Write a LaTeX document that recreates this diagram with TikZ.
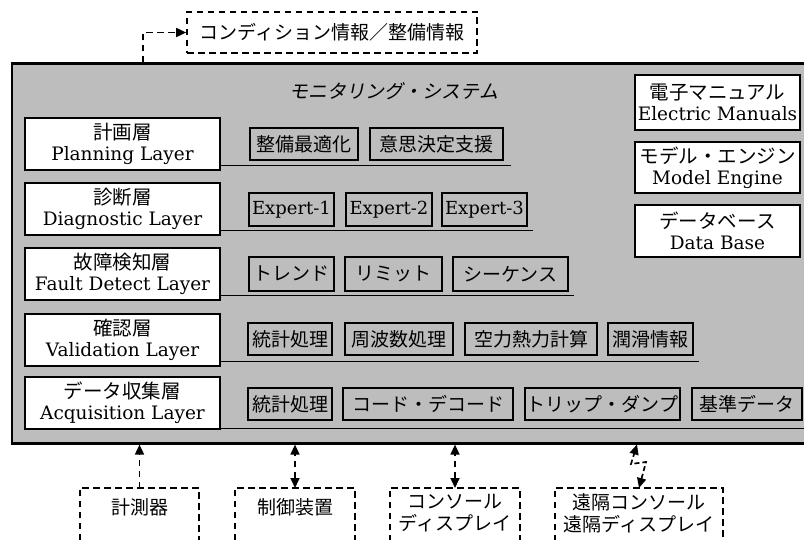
\documentclass[tikz,border=0pt]{standalone}
\usepackage{fontspec}
\newfontfamily\jp{Noto Sans CJK JP}
\newfontfamily\jpsl{Noto Sans CJK JP}[FakeSlant=0.2]
\newfontfamily\en{DejaVu Serif}
\usetikzlibrary{arrows.meta}
\newcommand\jtext[1]{{\jp\fontsize{19.5}{22}\selectfont #1}}
\newcommand\etext[1]{{\en\fontsize{18.5}{21}\selectfont #1}}
\tikzset{
  sysbox/.style={draw, line width=2.2pt, fill=black!26, minimum width=800pt, minimum height=380pt, inner sep=0pt},
  layer/.style={draw, line width=2.2pt, fill=white, minimum width=195pt, minimum height=52pt, inner sep=0pt, align=center, font=\fontsize{18.5}{21}\selectfont},
  side/.style={layer, minimum width=165pt},
  item/.style={draw, line width=1.4pt, minimum height=32pt, inner sep=0pt, font=\jp\fontsize{19}{22}\selectfont},
  expert/.style={item, font=\en\fontsize{18}{20}\selectfont},
  rowline/.style={line width=1pt},
  dline/.style={line width=1.7pt, dash pattern=on 6.5pt off 4.5pt},
  obox/.style={draw=none, anchor=north, inner sep=0pt, align=center, font=\jp\fontsize{19}{21.5}\selectfont},
  tip/.style={-{Triangle[length=10pt,width=9pt]}},
  dtip/.style={{Triangle[length=10pt,width=9pt]}-{Triangle[length=10pt,width=9pt]}},
}
\begin{document}
\begin{tikzpicture}[x=1pt,y=-1pt]
\useasboundingbox (0,0) rectangle (804,540);
\clip (0,0) rectangle (804,540);
\fill[white] (0,0) rectangle (804,540);
\node[sysbox] (sys) at (412,253.5) {};
% top info box
\node[draw, dline, minimum width=290pt, minimum height=41pt, inner sep=0pt, font=\jp\fontsize{19}{21}\selectfont] (cond) at (332,32.5) {コンディション情報／整備情報};
\coordinate (tl) at (143,33);
\draw[dline, tip] (sys.north -| tl) |- (cond.west);
\node[font=\jpsl\fontsize{19}{21}\selectfont] (title) at (394,91) {モニタリング・システム};
% layers
\node[layer] (L1) at (122.5,144) {\jtext{計画層}\\\etext{Planning Layer}};
\node[layer] (L2) at (122.5,209) {\jtext{診断層}\\\etext{Diagnostic Layer}};
\node[layer] (L3) at (122.5,274) {\jtext{故障検知層}\\\etext{Fault Detect Layer}};
\node[layer] (L4) at (122.5,340) {\jtext{確認層}\\\etext{Validation Layer}};
\node[layer] (L5) at (122.5,403) {\jtext{データ収集層}\\\etext{Acquisition Layer}};
% side boxes
\node[side, minimum height=55pt] (R1) at (717.5,102.5) {\jtext{電子マニュアル}\\\etext{Electric Manuals}};
\node[side, minimum height=51pt] (R2) at (717.5,167.5) {\jtext{モデル・エンジン}\\\etext{Model Engine}};
\node[side, minimum height=52pt] (R3) at (717.5,231) {\jtext{データベース}\\\etext{Data Base}};
% row items
\node[item, minimum width=108pt] (I11) at (304,144) {整備最適化};
\node[item, minimum width=133pt] (I12) at (436.5,144) {意思決定支援};
\node[expert, minimum width=85pt, minimum height=33pt] (I21) at (291.5,209.5) {Expert-1};
\node[expert, minimum width=86pt, minimum height=33pt] (I22) at (389,209.5) {Expert-2};
\node[expert, minimum width=85pt, minimum height=33pt] (I23) at (484.5,209.5) {Expert-3};
\node[item, minimum width=85pt, minimum height=34pt] (I31) at (291.5,274) {トレンド};
\node[item, minimum width=97pt, minimum height=34pt] (I32) at (393.5,274) {リミット};
\node[item, minimum width=115pt, minimum height=34pt] (I33) at (510.5,274) {シーケンス};
\node[item, minimum width=84pt] (I41) at (290,339) {統計処理};
\node[item, minimum width=108pt] (I42) at (399,339) {周波数処理};
\node[item, minimum width=132pt] (I43) at (531,339) {空力熱力計算};
\node[item, minimum width=85pt] (I44) at (650.5,339) {潤滑情報};
\node[item, minimum width=84pt] (I51) at (290,404) {統計処理};
\node[item, minimum width=170pt] (I52) at (428,404) {コード・デコード};
\node[item, minimum width=155pt] (I53) at (602.5,404) {トリップ・ダンプ};
\node[item, minimum width=110pt] (I54) at (747,404) {基準データ};
% row lines
\coordinate (r1) at ([yshift=6pt]L1.south east);
\coordinate (r2) at ([yshift=6pt]L2.south east);
\coordinate (r3) at ([yshift=6pt]L3.south east);
\coordinate (r4) at ([yshift=6pt]L4.south east);
\coordinate (r5) at ([yshift=2pt]L5.south east);
\draw[rowline] (r1) -- (r1 -| I12.east) -- ++(7,0);
\draw[rowline] (r2) -- (r2 -| I23.east) -- ++(5,0);
\draw[rowline] (r3) -- (r3 -| I33.east) -- ++(5,0);
\draw[rowline] (r4) -- (r4 -| I44.east) -- ++(5,0);
\draw[rowline] (r5) -- (r5 -| I54.east) -- ++(10,0);
% bottom boxes
\node[obox, minimum width=119pt, minimum height=38pt] (B1) at (139.5,488) {計測器};
\node[obox, minimum width=120pt, minimum height=38pt] (B2) at (295,488) {制御装置};
\node[obox, minimum width=130pt, minimum height=50pt] (B3) at (455,488) {コンソール\\ディスプレイ};
\node[obox, minimum width=168pt, minimum height=50pt] (B4) at (639,488) {遠隔コンソール\\遠隔ディスプレイ};
\foreach \b in {B1,B2,B3,B4}{
  \draw[dline] ([yshift=-80pt]\b.south west) -- (\b.north west) -- (\b.north east) -- ([yshift=-80pt]\b.south east);
}
\draw[dline, tip] (B1.north) -- (B1.north |- sys.south);
\draw[dline, dtip] (B2.north) -- (B2.north |- sys.south);
\draw[dline, dtip] (B3.north) -- (B3.north |- sys.south);
\coordinate (z1) at (646,462);
\coordinate (z2) at (631,464);
\coordinate (z3) at (637,444.5);
\draw[line width=1.7pt, dash pattern=on 5pt off 3pt, dtip] (B4.north) -- (z1) -- (z2) -- (z3);
\end{tikzpicture}
\end{document}
